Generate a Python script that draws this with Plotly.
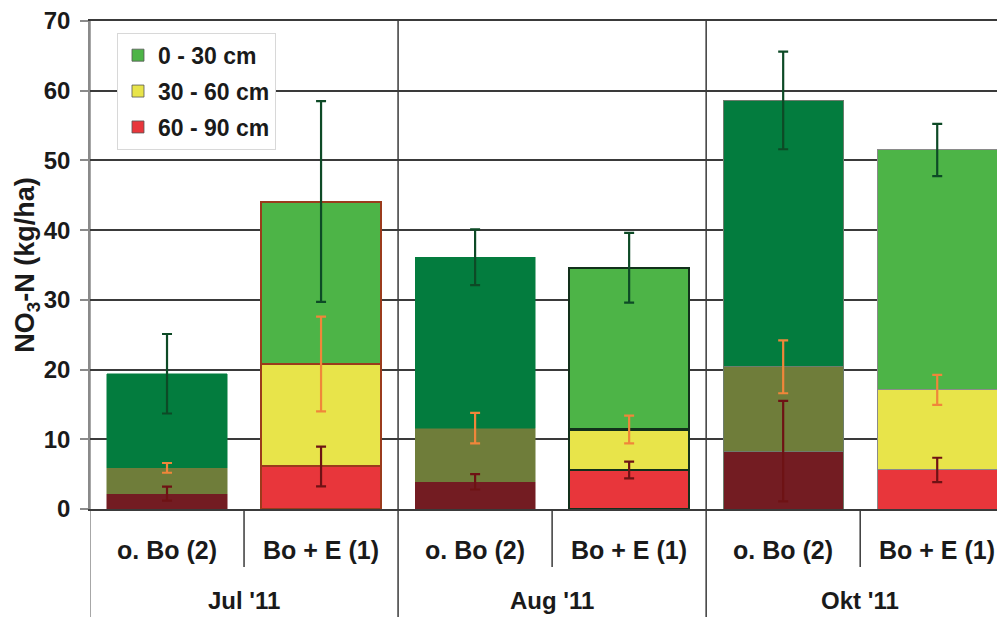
import plotly.graph_objects as go

# ---- data ----
categories = ["o. Bo (2)", "Bo + E (1)", "o. Bo (2)", "Bo + E (1)", "o. Bo (2)", "Bo + E (1)"]
groups = ["Jul '11", "Aug '11", "Okt '11"]
layers = ["0 - 30 cm", "30 - 60 cm", "60 - 90 cm"]

v_60_90 = [2.2, 6.1, 3.9, 5.6, 8.3, 5.6]
v_30_60 = [3.7, 14.7, 7.7, 5.8, 12.1, 11.5]
v_0_30 = [13.5, 23.3, 24.5, 23.2, 38.2, 34.4]

err_60_90 = [1.0, 2.85, 1.1, 1.2, 7.2, 1.75]
err_30_60 = [0.7, 6.8, 2.2, 2.0, 3.8, 2.15]
err_0_30 = [5.7, 14.4, 4.0, 5.0, 7.0, 3.75]

# ---- styling ----
FONT = "Liberation Sans, Arial, sans-serif"
TXT = "#1a1a1a"
GRID = "#3a3a3a"

dark = {"0_30": "#037C3E", "30_60": "#6F7D3A", "60_90": "#731C22"}
bright = {"0_30": "#4DB447", "30_60": "#E8E44A", "60_90": "#E8363B"}
err_col = {"0_30": "#0D4A26", "30_60": "#F0863A", "60_90": "#6E1214"}

x = list(range(len(categories)))
is_obo = [c.startswith("o.") for c in categories]


def fills(key):
    return [dark[key] if o else bright[key] for o in is_obo]


def outlines(key):
    f = fills(key)
    special = {1: "#9B3B1C", 3: "#12301B", 4: "#6d7d6d", 5: "#8a8a8a"}
    return [special.get(i, f[i]) for i in range(len(f))]


line_w = [0.5, 2, 0.5, 2.2, 1, 1]

stack = [("60_90", v_60_90, err_60_90),
         ("30_60", v_30_60, err_30_60),
         ("0_30", v_0_30, err_0_30)]

fig = go.Figure()
for key, vals, errs in stack:
    fig.add_trace(go.Bar(
        x=x, y=vals, width=0.78, showlegend=False,
        marker=dict(color=fills(key), line=dict(color=outlines(key), width=line_w)),
        hoverinfo="y",
    ))

# error bars drawn on top of all stacked segments, at each segment's stacked top
base = [0.0] * len(x)
for key, vals, errs in stack:
    base = [b + v for b, v in zip(base, vals)]
    fig.add_trace(go.Scatter(
        x=x, y=base, mode="markers", showlegend=False, hoverinfo="skip",
        marker=dict(size=1, opacity=0),
        error_y=dict(type="data", array=errs, visible=True, color=err_col[key],
                     thickness=2.2, width=5),
    ))

# legend entries
for key, name in zip(["0_30", "30_60", "60_90"], layers):
    fig.add_trace(go.Bar(x=[None], y=[None], name="<b>%s</b>" % name, legendgroup=key,
                         marker=dict(color=bright[key], line=dict(color="#555", width=0.8))))

shapes = []
# group separators (full height incl. label area)
for gx in [-0.5, 1.5, 3.5]:
    shapes.append(dict(type="line", xref="x", yref="paper", x0=gx, x1=gx, y0=-0.23, y1=1,
                       line=dict(color="#8a8a8a" if gx < 0 else GRID, width=1.5), layer="below"))
# category separators in label area
for cx in [0.5, 2.5, 4.5]:
    shapes.append(dict(type="line", xref="x", yref="paper", x0=cx, x1=cx, y0=-0.119, y1=0,
                       line=dict(color=GRID, width=1.5)))

annotations = []
for i, c in enumerate(categories):
    annotations.append(dict(x=i, y=-0.084, xref="x", yref="paper", text="<b>%s</b>" % c,
                            showarrow=False, yanchor="middle",
                            font=dict(family=FONT, size=25, color=TXT)))
for j, g in enumerate(groups):
    annotations.append(dict(x=2 * j + 0.5, y=-0.188, xref="x", yref="paper", text="<b>%s</b>" % g,
                            showarrow=False, yanchor="middle",
                            font=dict(family=FONT, size=24, color=TXT)))

fig.update_layout(
    width=997, height=609,
    margin=dict(l=82, r=0, t=13, b=108, autoexpand=False),
    barmode="stack",
    paper_bgcolor="white", plot_bgcolor="white",
    font=dict(family=FONT, color=TXT),
    shapes=shapes, annotations=annotations,
    legend=dict(x=0.0295, y=0.976, xanchor="left", yanchor="top",
                bgcolor="white", bordercolor="#d8d8d8", borderwidth=1,
                font=dict(family=FONT, size=23, color=TXT),
                traceorder="grouped", tracegroupgap=3),
    xaxis=dict(range=[-0.5, 5.44], showticklabels=False, showgrid=False, zeroline=False,
               showline=True, linecolor=GRID, linewidth=1.5, mirror=True, ticks="",
               automargin=False),
    yaxis=dict(range=[0, 70], dtick=10, showgrid=True, gridcolor=GRID, gridwidth=1.5,
               zeroline=False, showline=True, linecolor="#8a8a8a", linewidth=1.5,
               ticks="outside", ticklen=8, tickcolor="#8a8a8a", tickwidth=1.5,
               ticklabelstandoff=5, automargin=False, ticklabeloverflow="allow",
               tickfont=dict(family=FONT, size=24, color=TXT),
               tickprefix="<b>", ticksuffix="</b>",
               title=dict(text="<b>NO<sub>3</sub>-N (kg/ha)</b>", standoff=1,
                          font=dict(family=FONT, size=27, color=TXT))),
)

fig.write_html("out.html")
